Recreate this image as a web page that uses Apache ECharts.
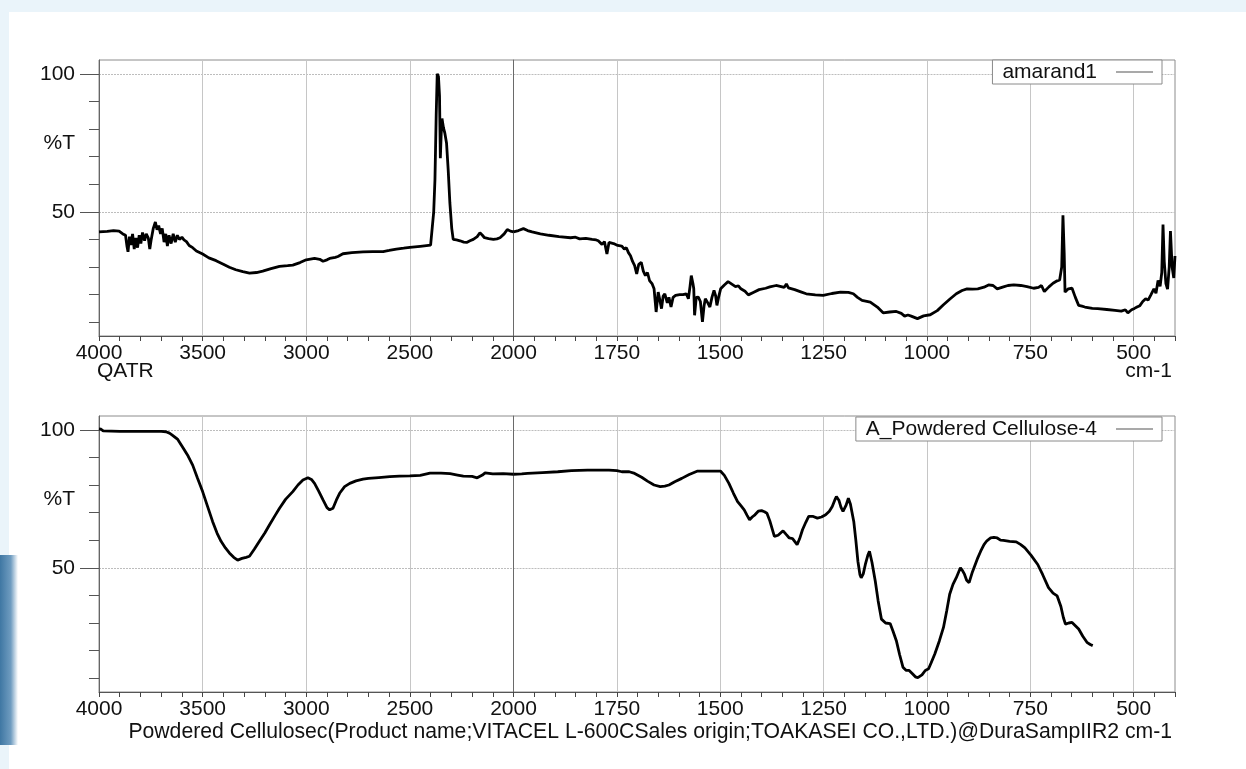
<!DOCTYPE html>
<html>
<head>
<meta charset="utf-8">
<script src="https://cdn.jsdelivr.net/npm/echarts@6/dist/echarts.min.js"></script>
<style>
html,body{margin:0;padding:0;width:1246px;height:769px;overflow:hidden;background:#ffffff;}
#bgTop{position:absolute;left:0;top:0;width:1246px;height:12px;background:#eaf4fa;}
#bgLeft{position:absolute;left:0;top:0;width:9px;height:769px;background:#eaf4fa;}
#bgBlue{position:absolute;left:0;top:555px;width:18px;height:190px;background:linear-gradient(90deg,#3f77a3 0%,#6f9cc0 60%,rgba(255,255,255,0) 100%);}
#chart{position:absolute;left:0;top:0;width:1246px;height:769px;}
</style>
</head>
<body>
<div id="bgTop"></div><div id="bgLeft"></div><div id="bgBlue"></div>
<div id="chart"></div>
<script>
// ---- data: wavenumber (cm-1) and %T ----
const topWn = [4000,3960,3930,3903,3885,3872,3865,3860,3853,3846,3838,3830,3822,3814,3806,3798,3790,3780,3772,3762,3755,3748,3738,3728,3720,3712,3703,3695,3686,3678,3670,3662,3652,3642,3632,3622,3612,3600,3590,3578,3565,3548,3530,3500,3470,3435,3400,3371,3340,3306,3274,3240,3210,3170,3129,3090,3065,3030,3000,2960,2935,2919,2900,2887,2860,2847,2823,2780,2726,2680,2629,2600,2565,2530,2500,2450,2400,2392,2385,2379,2373,2368,2362,2357,2353,2349,2345,2338,2331,2323,2315,2307,2298,2291,2275,2258,2240,2226,2210,2194,2175,2162,2150,2140,2120,2097,2080,2065,2045,2030,2015,2000,
1988,1976,1966,1955,1935,1914,1890,1862,1850,1840,1825,1810,1800,1795,1786,1780,1774,1769,1758,1748,1738,1732,1727,1722,1717,1712,1707,1702,1697,1691,1686,1681,1676,1671,1665,1660,1655,1650,1646,1642,1638,1634,1628,1624,1619,1614,1608,1598,1590,1582,1577,1573,1570,1566,1564,1562,1558,1553,1548,1543,1539,1536,1530,1525,1520,1515,1511,1508,1504,1499,1490,1481,1472,1463,1456,1450,1440,1432,1420,1406,1390,1380,1365,1355,1345,1340,1335,1320,1305,1292,1270,1251,1230,1209,1190,1178,1168,1157,1137,1120,1106,1090,1074,1062,1054,1046,1038,1023,1008,992,975,960,945,929,915,903,890,877,862,851,840,830,815,804,790,773,758,742,730,723,716,705,695,685,679,674,671,668,666,662,658,649,641,633,625,618,600,587,565,545,530,520,514,505,498,492,485,478,471,465,458,451,446,441,436,432,429,426,422,418,414,411,407,403,400];
const topT = [42.7,42.9,43.2,43.0,42.0,41.5,37.5,35.5,41.0,38.0,42.0,36.5,40.5,37.0,41.5,38.5,42.5,39.5,42.0,40.5,36.5,40.0,44.0,46.3,43.5,45.0,42.0,44.0,39.0,42.0,37.6,41.5,38.5,42.0,39.0,41.5,40.0,40.8,39.8,39.2,37.8,37.0,35.8,34.7,33.3,32.3,31.0,29.9,29.0,28.3,27.8,28.0,28.5,29.4,30.2,30.5,30.7,31.6,32.6,33.1,32.8,32.1,32.6,33.1,33.5,33.8,34.8,35.2,35.5,35.6,35.6,36.0,36.5,36.8,37.1,37.5,37.9,38.5,50.0,61.6,85.0,100.0,99.0,92.0,69.4,78.0,83.8,80.5,78.4,74.8,65.0,53.2,44.0,40.0,39.8,39.5,39.0,38.9,39.5,40.0,41.0,42.4,41.5,40.6,40.3,40.0,40.2,40.6,42.0,43.6,43.0,42.7,
43.2,43.9,43.2,42.7,42.0,41.5,41.0,40.6,40.8,40.2,40.4,40.0,39.8,39.5,38.2,39.2,34.7,38.9,38.5,37.8,37.6,36.5,37.0,35.2,34.1,32.0,30.5,27.5,31.0,31.7,28.5,26.9,28.0,25.1,24.0,22.1,13.7,20.9,18.0,14.9,19.5,20.3,17.0,19.0,15.5,19.0,19.7,20.0,20.0,20.3,18.5,23.0,26.9,24.0,22.1,12.5,19.0,19.1,17.5,10.1,16.0,18.5,17.0,15.5,19.0,21.5,19.5,16.1,19.0,22.1,23.5,24.7,23.8,22.9,23.2,22.1,21.2,19.9,20.8,21.8,22.3,22.8,23.3,23.0,22.6,23.9,22.4,21.8,21.0,20.3,19.9,19.7,20.4,20.9,20.8,20.3,19.0,17.9,17.3,15.5,13.4,13.7,13.9,13.2,12.2,12.6,12.2,11.3,12.3,12.7,14.2,16.3,18.3,20.3,21.5,22.1,22.0,22.1,22.7,23.5,23.3,22.1,22.8,23.3,23.5,23.3,22.9,22.3,22.6,23.3,21.1,22.8,24.1,25.0,25.3,30.0,48.7,35.0,20.9,21.5,22.1,22.3,19.0,16.1,15.8,15.5,15.0,14.9,14.6,14.3,14.0,14.5,13.4,14.5,15.0,15.5,16.0,17.5,18.5,18.0,20.0,22.1,20.5,25.1,23.0,28.0,45.4,32.0,24.0,22.0,30.0,43.0,30.0,26.0,34.0];

const botWn = [4000,3990,3980,3900,3800,3700,3677,3660,3645,3620,3597,3570,3548,3525,3500,3475,3452,3430,3411,3390,3371,3350,3331,3310,3290,3274,3250,3226,3200,3177,3150,3129,3100,3065,3040,3016,2992,2975,2960,2940,2919,2900,2887,2871,2855,2839,2815,2790,2760,2726,2700,2650,2597,2550,2500,2450,2403,2350,2306,2270,2242,2200,2175,2169,2150,2137,2100,2050,2000,
1980,1966,1930,1893,1860,1821,1790,1769,1750,1738,1720,1707,1690,1676,1660,1645,1634,1624,1610,1593,1575,1556,1530,1499,1490,1479,1468,1458,1450,1442,1435,1429,1422,1416,1408,1400,1393,1387,1380,1369,1360,1348,1340,1333,1325,1314,1308,1301,1293,1286,1275,1265,1255,1245,1236,1229,1223,1219,1213,1208,1203,1196,1190,1185,1177,1172,1167,1162,1159,1154,1149,1143,1139,1133,1125,1118,1110,1100,1089,1082,1074,1066,1058,1050,1043,1035,1028,1022,1012,1004,996,990,981,970,960,952,945,937,929,919,914,909,904,898,890,877,870,862,855,846,838,830,822,815,800,784,773,763,748,732,720,706,695,685,676,670,665,657,649,641,633,623,613,605,599];
const botT = [100.3,100.2,99.6,99.4,99.4,99.4,99.3,98.8,98.0,96.5,93.8,90.5,87.2,82.5,77.6,72.0,66.8,62.5,59.6,57.2,55.4,53.8,52.8,53.4,53.8,54.2,56.8,59.6,62.6,65.6,69.0,71.6,74.8,77.6,80.0,81.8,82.6,82.0,80.6,77.8,74.6,71.8,71.0,71.6,74.5,77.0,79.4,80.6,81.5,82.1,82.4,82.7,83.0,83.2,83.3,83.5,84.3,84.3,84.1,83.6,83.2,83.1,82.6,82.4,83.6,84.4,84.0,84.1,83.9,
84.0,84.2,84.5,84.8,85.2,85.4,85.4,85.4,85.2,84.8,84.8,84.2,82.8,81.4,80.0,79.4,79.6,80.0,81.2,82.4,83.8,85.0,85.0,85.0,83.5,80.6,77.0,74.0,72.5,71.0,69.0,67.4,68.5,69.2,70.5,70.7,70.3,69.8,67.0,61.4,61.8,63.4,62.0,60.8,60.6,58.4,60.5,63.8,66.5,68.6,68.6,68.0,68.4,69.2,70.5,72.2,74.5,75.8,74.5,72.0,70.4,72.5,75.2,73.0,66.8,60.0,52.4,47.5,46.4,47.8,51.2,54.5,56.0,52.0,45.2,38.0,31.4,30.0,29.8,27.0,23.6,18.5,14.0,12.8,12.8,11.6,10.5,10.2,11.2,12.8,13.4,15.5,18.8,23.5,28.4,34.5,40.4,44.0,46.4,50.0,49.0,47.6,45.5,44.6,48.5,53.6,56.0,58.4,59.8,60.8,61.0,60.8,60.0,59.9,59.6,59.4,58.4,57.2,54.5,51.2,47.5,42.8,40.8,39.8,36.0,32.0,29.6,30.0,30.2,29.0,27.8,25.2,23.0,22.2,21.8];

const xMajorRight = [500,750,1000,1250,1500,1750,2000];
const xMinorRight = [];
for (let v = 400; v <= 2000; v += 50) xMinorRight.push(v);
const yMajor = [50,100];
const yLabels = [50,75,100];
const yMinor = [10,20,30,40,50,60,70,80,90,100];

const topName = 'amarand1';
const botName = 'A_Powdered Cellulose-4';
const bottomNote = 'Powdered Cellulosec(Product name;VITACEL L-600CSales origin;TOAKASEI CO.,LTD.)@DuraSampIIR2 cm-1';

// ---- build ----
const FONT = '"Liberation Sans", Arial, sans-serif';
const FS = 21;
function part(wn, t, left) {
  const out = [];
  for (let i = 0; i < wn.length; i++) {
    if (left ? wn[i] >= 2000 : wn[i] <= 2000) out.push([wn[i], t[i]]);
  }
  return out;
}
const plain = function (v) { return String(v); };
const tickColor = '#444';
const gridLine = {show:true, lineStyle:{color:'#c6c6c6', width:1}};
const hGridLine = {show:true, lineStyle:{color:'#bdbdbd', width:1, type:[2,1]}};
const labelStyle = {fontSize:FS, color:'#111', fontFamily:FONT};

function leftX(g) {
  return {gridIndex:g, type:'value', inverse:true, min:2000, max:4000, interval:500, position:'bottom',
    axisLine:{show:true, onZero:false, lineStyle:{color:'#555', width:1}},
    axisTick:{show:true, length:5, lineStyle:{color:tickColor}},
    minorTick:{show:true, splitNumber:5, length:5, lineStyle:{color:tickColor}},
    axisLabel:Object.assign({showMinLabel:false, margin:7, formatter:plain}, labelStyle),
    splitLine:gridLine, minorSplitLine:{show:false}};
}
function rightXMain(g) {
  return {gridIndex:g, type:'value', inverse:true, min:400, max:2000, position:'bottom',
    axisLine:{show:true, onZero:false, lineStyle:{color:'#555', width:1}},
    axisTick:{show:true, length:5, customValues:xMajorRight, lineStyle:{color:tickColor}},
    axisLabel:Object.assign({customValues:xMajorRight, margin:7, formatter:plain}, labelStyle),
    splitLine:gridLine};
}
function rightXMinor(g) {
  return {gridIndex:g, type:'value', inverse:true, min:400, max:2000, position:'bottom',
    axisLine:{show:false, onZero:false},
    axisTick:{show:true, length:5, customValues:xMinorRight, lineStyle:{color:tickColor}},
    axisLabel:{show:false}, splitLine:{show:false}};
}
function leftYMajor(g) {
  return {gridIndex:g, type:'value', min:5, max:105, position:'left',
    axisLine:{show:true, onZero:false, lineStyle:{color:'#666', width:1}},
    axisTick:{show:true, length:19, customValues:yMajor, lineStyle:{color:'#555'}},
    axisLabel:Object.assign({customValues:yLabels, margin:24, formatter:function(v){return v===75?'%T':String(v);}}, labelStyle),
    splitLine:hGridLine};
}
function leftYMinor(g) {
  return {gridIndex:g, type:'value', min:5, max:105, position:'left',
    axisLine:{show:false, onZero:false},
    axisTick:{show:true, length:10, customValues:yMinor, lineStyle:{color:'#555'}},
    axisLabel:{show:false}, splitLine:{show:false}};
}
function rightY(g) {
  return {gridIndex:g, type:'value', min:5, max:105, position:'left',
    axisLine:{show:true, onZero:false, lineStyle:{color:'#6a6a6a', width:1}},
    axisTick:{show:false, customValues:yMajor},
    axisLabel:{show:false}, splitLine:hGridLine};
}
const gridBase = {show:true, borderColor:'#8c8c8c', borderWidth:1, backgroundColor:'transparent', containLabel:false};
const lineSt = {color:'#000', width:2.8};
function ser(name, xi, yi, data) {
  return {name:name, type:'line', xAxisIndex:xi, yAxisIndex:yi, data:data, symbol:'none', showSymbol:false,
    lineStyle:lineSt, itemStyle:{color:'#000'}, animation:false, silent:true, clip:true};
}
function legend(name, top) {
  return {data:[name], top:top, right:84, orient:'horizontal', align:'right', selectedMode:false,
    backgroundColor:'#fff', borderColor:'#8a8a8a', borderWidth:1, borderRadius:0, padding:[1,9,1,10],
    icon:'rect', itemWidth:37, itemHeight:1,
    itemStyle:{color:'#555', borderWidth:0},
    textStyle:{fontSize:FS, color:'#111', fontFamily:FONT, lineHeight:22, padding:[0,14,0,0]}};
}

const option = {
  animation:false,
  backgroundColor:'transparent',
  grid:[
    Object.assign({left:99, top:60, width:414.5, height:276}, gridBase),
    Object.assign({left:513.5, top:60, width:661.5, height:276}, gridBase),
    Object.assign({left:99, top:416, width:414.5, height:276}, gridBase),
    Object.assign({left:513.5, top:416, width:661.5, height:276}, gridBase)
  ],
  xAxis:[leftX(0), rightXMain(1), rightXMinor(1), leftX(2), rightXMain(3), rightXMinor(3)],
  yAxis:[leftYMajor(0), leftYMinor(0), rightY(1), leftYMajor(2), leftYMinor(2), rightY(3)],
  legend:[legend(topName, 60), legend(botName, 417)],
  series:[
    ser(topName, 0, 0, part(topWn, topT, true)),
    ser(topName, 1, 2, part(topWn, topT, false)),
    ser(botName, 3, 3, part(botWn, botT, true)),
    ser(botName, 4, 5, part(botWn, botT, false))
  ],
  graphic:[
    {type:'text', left:97, top:361, style:{text:'QATR', fontSize:FS, fill:'#111', fontFamily:FONT}},
    {type:'text', right:74, top:361, style:{text:'cm-1', fontSize:FS, fill:'#111', fontFamily:FONT}},
    {type:'text', right:74, top:722, style:{text:bottomNote, fontSize:21.2, fill:'#111', fontFamily:FONT}}
  ]
};
const chart = echarts.init(document.getElementById('chart'), null, {renderer:'canvas'});
chart.setOption(option);
</script>
</body>
</html>
